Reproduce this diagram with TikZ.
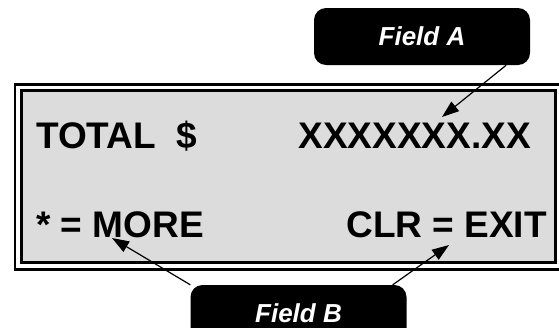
\documentclass[tikz,border=0pt]{standalone}
\usepackage{fontspec}
\setmainfont{Liberation Sans}
\usetikzlibrary{arrows.meta}
\definecolor{lcdgray}{RGB}{220,220,220}

\begin{document}
\begin{tikzpicture}[x=1pt,y=-1pt]
\tikzstyle{lcdtext}=[inner sep=0pt, font=\fontsize{37}{40}\selectfont\bfseries]
\tikzstyle{field}=[fill=black, rounded corners=12pt, minimum width=216pt, minimum height=57pt, text=white, font=\fontsize{26}{28}\selectfont\bfseries\itshape]
\tikzstyle{pointer}=[line width=1.2pt, -{Triangle[length=17pt,width=12pt]}]
\useasboundingbox (0,0) rectangle (559,327);

% display frame
\draw[line width=2.5pt] (15,84.5) rectangle (562,269.5);
\draw[line width=3pt, fill=lcdgray] (21.5,90.5) rectangle (555.5,262);

\node[lcdtext, anchor=base west] (total) at (36,148) {TOTAL~~\$};
\node[lcdtext, anchor=base east] (amount) at (531,148) {XXXXXXX.XX};
\node[lcdtext, anchor=base west] (more) at (36,237) {* = MORE};
\node[lcdtext, anchor=base east] (exit) at (547,237) {CLR = EXIT};

\node[field] (fa) at (422,36.5) {Field A};
\node[field] (fb) at (298.5,313.5) {Field B};

\coordinate (amounttip) at (442,117);
\coordinate (moretip) at (112,238);
\coordinate (exittip) at (449,245);
\draw[pointer] ([xshift=-24pt]fa.south east) -- (amounttip);
\draw[pointer] (fb.north west) -- (moretip);
\draw[pointer] ([xshift=-14pt]fb.north east) -- (exittip);
%\draw[pointer] (fb) -- (exit);

\end{tikzpicture}
\end{document}
